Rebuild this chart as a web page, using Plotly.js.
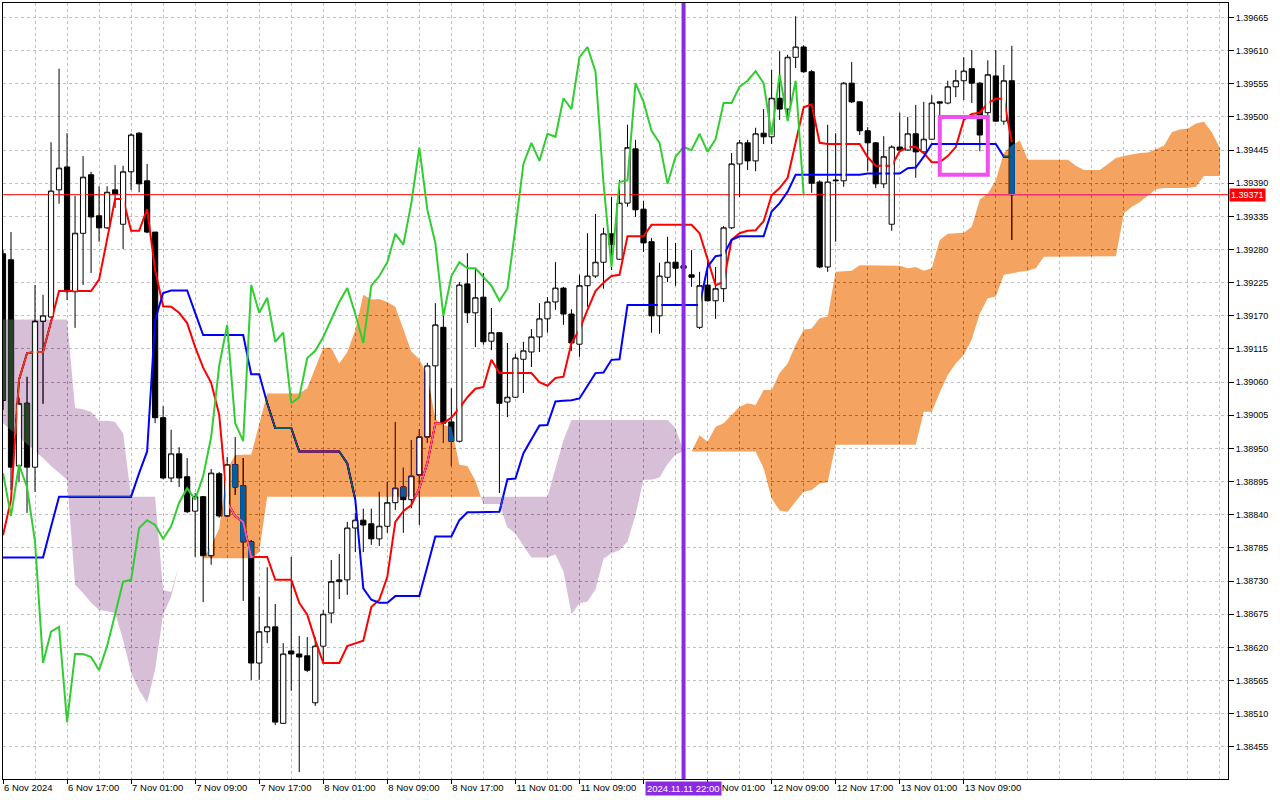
<!DOCTYPE html>
<html>
<head>
<meta charset="utf-8">
<script src="https://cdn.plot.ly/plotly-3.0.1.min.js"></script>
<style>html,body{margin:0;padding:0;background:#fff;}#chart{width:1280px;height:800px;}</style>
</head>
<body>
<div id="chart"></div>
<script>
// ---- H1 bars, 6 Nov 2024 09:00 ... 13 Nov 2024 15:00 (bar index 0..126) ----
const xTickIdx  = [0, 8, 16, 24, 32, 40, 48, 56, 64, 72, 80, 88, 96, 104, 112, 120];
// the 11 Nov 17:00 label sits under the vertical-line time label in the original
const xTickText = ['6 Nov 2024','6 Nov 17:00','7 Nov 01:00','7 Nov 09:00','7 Nov 17:00','8 Nov 01:00','8 Nov 09:00','8 Nov 17:00','11 Nov 01:00','11 Nov 09:00','','12 Nov 01:00','12 Nov 09:00','12 Nov 17:00','13 Nov 01:00','13 Nov 09:00'];
const yTickVals = [1.38455,1.38510,1.38565,1.38620,1.38675,1.38730,1.38785,1.38840,1.38895,1.38950,1.39005,1.39060,1.39115,1.39170,1.39225,1.39280,1.39335,1.39390,1.39445,1.39500,1.39555,1.39610,1.39665];

const open = [1.39273,1.39263,1.38921,1.39025,1.38919,1.39161,1.39168,1.39379,1.39417,1.39210,
1.39307,1.39404,1.39336,1.39316,1.39379,1.39322,1.39409,1.39473,1.39394,1.39309,
1.39001,1.38901,1.38941,1.38903,1.38846,1.38870,1.38772,1.38908,1.38838,1.38923,
1.38888,1.38795,1.38594,1.38646,1.38654,1.38494,1.38614,1.38609,1.38606,1.38528,
1.38622,1.38677,1.38729,1.38732,1.38818,1.38831,1.38825,1.38800,1.38821,1.38860,
1.38886,1.38865,1.38906,1.38969,1.39087,1.39151,1.38994,1.38962,1.39223,1.39175,
1.39201,1.39128,1.39142,1.39027,1.39035,1.39098,1.39110,1.39135,1.39165,1.39193,
1.39216,1.39173,1.39123,1.39220,1.39236,1.39259,1.39306,1.39264,1.39357,1.39447,
1.39347,1.39293,1.39170,1.39234,1.39259,1.39253,1.39238,1.39151,1.39221,1.39195,
1.39215,1.39316,1.39422,1.39457,1.39427,1.39473,1.39467,1.39531,1.39513,1.39599,
1.39616,1.39575,1.39392,1.39251,1.39394,1.39394,1.39556,1.39525,1.39477,1.39457,
1.39389,1.39322,1.39450,1.39445,1.39472,1.39442,1.39463,1.39525,1.39523,1.39550,
1.39560,1.39580,1.39556,1.39507,1.39568,1.39493,1.39560];

const high = [1.39279,1.39309,1.39034,1.39069,1.39221,1.39205,1.39458,1.39580,1.39473,1.39369,
1.39435,1.39409,1.39385,1.39385,1.39420,1.39419,1.39473,1.39475,1.39422,1.39309,
1.39020,1.38981,1.38952,1.38934,1.38876,1.38871,1.38916,1.38911,1.38936,1.38969,
1.38934,1.38798,1.38704,1.38753,1.38692,1.38627,1.38770,1.38639,1.38637,1.38637,
1.38682,1.38765,1.38775,1.38828,1.38843,1.38850,1.38850,1.38878,1.38894,1.38994,
1.38918,1.38964,1.38982,1.39092,1.39191,1.39170,1.39050,1.39226,1.39274,1.39249,
1.39241,1.39183,1.39143,1.39125,1.39107,1.39127,1.39148,1.39191,1.39201,1.39259,
1.39218,1.39181,1.39238,1.39307,1.39339,1.39316,1.39367,1.39395,1.39487,1.39462,
1.39361,1.39299,1.39258,1.39301,1.39291,1.39271,1.39279,1.39243,1.39269,1.39251,
1.39319,1.39440,1.39462,1.39462,1.39482,1.39513,1.39578,1.39609,1.39603,1.39667,
1.39619,1.39578,1.39395,1.39487,1.39473,1.39558,1.39591,1.39526,1.39483,1.39458,
1.39468,1.39453,1.39507,1.39500,1.39520,1.39525,1.39536,1.39526,1.39560,1.39578,
1.39599,1.39611,1.39558,1.39594,1.39611,1.39586,1.39618];

const low = [1.39014,1.38881,1.38894,1.38843,1.38878,1.39024,1.39166,1.39356,1.39196,1.39150,
1.39221,1.39241,1.39293,1.39314,1.39349,1.39281,1.39379,1.39375,1.39307,1.38992,
1.38899,1.38894,1.38886,1.38843,1.38770,1.38695,1.38757,1.38835,1.38836,1.38873,
1.38697,1.38566,1.38566,1.38627,1.38491,1.38493,1.38548,1.38413,1.38579,1.38523,
1.38592,1.38660,1.38700,1.38707,1.38778,1.38778,1.38790,1.38788,1.38810,1.38848,
1.38810,1.38851,1.38823,1.38959,1.38997,1.38959,1.38921,1.38960,1.39158,1.39118,
1.39122,1.39113,1.38876,1.39002,1.39034,1.39042,1.39085,1.39110,1.39142,1.39180,
1.39155,1.39112,1.39102,1.39185,1.39233,1.39215,1.39246,1.39263,1.39351,1.39334,
1.39276,1.39142,1.39140,1.39226,1.39220,1.39229,1.39218,1.39148,1.39194,1.39165,
1.39193,1.39314,1.39367,1.39412,1.39410,1.39455,1.39455,1.39495,1.39495,1.39581,
1.39573,1.39374,1.39249,1.39243,1.39293,1.39384,1.39523,1.39470,1.39410,1.39382,
1.39382,1.39311,1.39442,1.39444,1.39399,1.39440,1.39462,1.39500,1.39521,1.39533,
1.39528,1.39523,1.39443,1.39492,1.39492,1.39487,1.39296];

const close = [1.39030,1.38919,1.39024,1.38919,1.39161,1.39170,1.39377,1.39415,1.39210,1.39307,
1.39400,1.39334,1.39316,1.39375,1.39372,1.39409,1.39470,1.39389,1.39309,1.39001,
1.38901,1.38941,1.38901,1.38845,1.38870,1.38772,1.38909,1.38838,1.38923,1.38886,
1.38795,1.38594,1.38646,1.38654,1.38496,1.38609,1.38609,1.38604,1.38582,1.38622,
1.38675,1.38729,1.38732,1.38818,1.38831,1.38823,1.38800,1.38821,1.38860,1.38884,
1.38865,1.38904,1.38969,1.39087,1.39155,1.38992,1.38962,1.39221,1.39175,1.39200,
1.39127,1.39142,1.39025,1.39035,1.39100,1.39112,1.39135,1.39165,1.39193,1.39216,
1.39173,1.39125,1.39220,1.39236,1.39259,1.39306,1.39288,1.39357,1.39449,1.39346,
1.39291,1.39170,1.39236,1.39259,1.39249,1.39249,1.39234,1.39220,1.39195,1.39215,
1.39316,1.39422,1.39457,1.39427,1.39472,1.39467,1.39531,1.39513,1.39599,1.39616,
1.39575,1.39390,1.39251,1.39392,1.39395,1.39556,1.39525,1.39477,1.39457,1.39389,
1.39434,1.39450,1.39445,1.39472,1.39442,1.39463,1.39523,1.39523,1.39550,1.39560,
1.39576,1.39556,1.39470,1.39570,1.39493,1.39560,1.39371];

// Ichimoku lines
const tenkan = [1.38806,1.38865,1.39064,1.39108,1.39110,1.39110,1.39160,1.39211,1.39211,1.39211,
1.39211,1.39211,1.39230,1.39296,1.39364,1.39364,1.39311,1.39311,1.39347,1.39246,
1.39186,1.39185,1.39175,1.39158,1.39118,1.39084,1.39059,1.39006,1.38860,1.38838,
1.38828,1.38770,1.38770,1.38770,1.38732,1.38732,1.38732,1.38694,1.38674,1.38632,
1.38594,1.38594,1.38594,1.38622,1.38627,1.38631,1.38687,1.38699,1.38737,1.38828,
1.38846,1.38856,1.38884,1.38926,1.38992,1.38992,1.39001,1.39017,1.39035,1.39049,
1.39052,1.39097,1.39075,1.39075,1.39075,1.39075,1.39075,1.39060,1.39054,1.39067,
1.39069,1.39125,1.39147,1.39180,1.39211,1.39225,1.39236,1.39238,1.39302,1.39302,
1.39302,1.39321,1.39321,1.39321,1.39321,1.39321,1.39321,1.39307,1.39263,1.39221,
1.39226,1.39296,1.39307,1.39311,1.39312,1.39327,1.39370,1.39382,1.39399,1.39457,
1.39516,1.39521,1.39457,1.39455,1.39455,1.39455,1.39455,1.39455,1.39433,1.39419,
1.39419,1.39419,1.39443,1.39450,1.39450,1.39440,1.39425,1.39425,1.39435,1.39450,
1.39495,1.39505,1.39507,1.39523,1.39530,1.39530,1.39458];

const kijun = [1.38769,1.38769,1.38769,1.38769,1.38769,1.38769,1.38820,1.38870,1.38870,1.38870,
1.38870,1.38870,1.38870,1.38870,1.38870,1.38870,1.38870,1.38909,1.38945,1.39163,
1.39208,1.39212,1.39212,1.39212,1.39175,1.39138,1.39138,1.39138,1.39138,1.39138,
1.39138,1.39073,1.39073,1.39025,1.38984,1.38984,1.38984,1.38945,1.38945,1.38945,
1.38945,1.38945,1.38945,1.38925,1.38865,1.38718,1.38699,1.38694,1.38694,1.38705,
1.38705,1.38705,1.38705,1.38754,1.38804,1.38804,1.38804,1.38831,1.38844,1.38844,
1.38844,1.38845,1.38845,1.38899,1.38900,1.38942,1.38964,1.38988,1.38989,1.39028,
1.39029,1.39030,1.39033,1.39054,1.39075,1.39076,1.39097,1.39098,1.39188,1.39188,
1.39188,1.39188,1.39188,1.39188,1.39188,1.39188,1.39188,1.39188,1.39251,1.39269,
1.39271,1.39296,1.39302,1.39302,1.39302,1.39302,1.39343,1.39357,1.39376,1.39404,
1.39404,1.39404,1.39404,1.39404,1.39404,1.39404,1.39404,1.39404,1.39406,1.39406,
1.39406,1.39406,1.39406,1.39415,1.39416,1.39434,1.39455,1.39455,1.39455,1.39455,
1.39455,1.39455,1.39455,1.39455,1.39455,1.39434,1.39434];

// Senkou spans (already plotted 26 bars ahead), bar index 0..152
const spanA = [1.38992,1.38981,1.38969,1.38957,1.38946,1.38934,1.38921,1.38909,1.38898,1.38724,
1.38710,1.38694,1.38682,1.38680,1.38677,1.38632,1.38578,1.38549,1.38528,1.38583,
1.38674,1.38704,1.38757,1.38760,1.38760,1.38768,1.38788,1.38817,1.38916,1.38939,
1.38940,1.38940,1.38990,1.39041,1.39041,1.39041,1.39041,1.39041,1.39050,1.39083,
1.39117,1.39117,1.39091,1.39110,1.39146,1.39205,1.39197,1.39198,1.39193,1.39185,
1.39147,1.39111,1.39098,1.39072,1.38999,1.38989,1.38986,1.38923,1.38921,1.38897,
1.38858,1.38858,1.38858,1.38819,1.38809,1.38788,1.38769,1.38769,1.38769,1.38774,
1.38746,1.38675,1.38693,1.38696,1.38716,1.38767,1.38776,1.38781,1.38795,1.38840,
1.38898,1.38898,1.38902,1.38924,1.38940,1.38945,1.38945,1.38972,1.38961,1.38986,
1.38992,1.39006,1.39019,1.39025,1.39022,1.39047,1.39047,1.39075,1.39091,1.39122,
1.39147,1.39149,1.39166,1.39169,1.39243,1.39244,1.39245,1.39254,1.39254,1.39254,
1.39254,1.39254,1.39253,1.39249,1.39251,1.39245,1.39249,1.39296,1.39306,1.39307,
1.39308,1.39318,1.39363,1.39373,1.39395,1.39440,1.39453,1.39461,1.39429,1.39429,
1.39429,1.39429,1.39429,1.39429,1.39419,1.39412,1.39412,1.39412,1.39422,1.39432,
1.39435,1.39438,1.39440,1.39441,1.39446,1.39452,1.39475,1.39479,1.39481,1.39489,
1.39492,1.39474,1.39448];

const spanB = [1.39164,1.39164,1.39164,1.39164,1.39164,1.39164,1.39164,1.39164,1.39164,1.39017,
1.39015,1.39011,1.38996,1.38996,1.38994,1.38975,1.38870,1.38870,1.38870,1.38870,
1.38715,1.38712,1.38757,1.38760,1.38760,1.38768,1.38768,1.38768,1.38768,1.38768,
1.38768,1.38768,1.38778,1.38870,1.38870,1.38870,1.38870,1.38870,1.38870,1.38870,
1.38870,1.38870,1.38870,1.38870,1.38870,1.38870,1.38870,1.38870,1.38870,1.38870,
1.38870,1.38870,1.38870,1.38870,1.38870,1.38870,1.38870,1.38870,1.38870,1.38870,
1.38870,1.38870,1.38870,1.38870,1.38870,1.38870,1.38870,1.38870,1.38870,1.38918,
1.38964,1.38997,1.38997,1.38997,1.38997,1.38997,1.38997,1.38997,1.38997,1.38997,
1.38997,1.38997,1.38997,1.38997,1.38984,1.38945,1.38945,1.38945,1.38945,1.38945,
1.38945,1.38945,1.38945,1.38945,1.38945,1.38917,1.38867,1.38847,1.38845,1.38862,
1.38878,1.38881,1.38892,1.38894,1.38956,1.38956,1.38956,1.38956,1.38956,1.38956,
1.38956,1.38956,1.38956,1.38956,1.38956,1.39011,1.39011,1.39043,1.39072,1.39091,
1.39105,1.39131,1.39174,1.39199,1.39202,1.39238,1.39241,1.39243,1.39245,1.39249,
1.39268,1.39269,1.39269,1.39269,1.39269,1.39269,1.39269,1.39269,1.39269,1.39269,
1.39340,1.39351,1.39359,1.39370,1.39380,1.39382,1.39382,1.39382,1.39382,1.39384,
1.39402,1.39402,1.39402];

const chikouShift = 26;
const bidPrice = 1.39371;
const markerBar = 85;                 // 2024.11.11 22:00
const markerLabel = '2024.11.11 22:00';
const boxBars = [117, 123];
const boxPrices = [1.39404, 1.39500];

// ---- styling ----
const FONT = 'Liberation Sans, Arial, sans-serif';
const GRID = '#c4bcc6';
const KUMO_UP = '#F4A460', KUMO_DOWN = '#D8BFD8';
const X_RANGE = [0, 153];
const Y_RANGE = [1.384016, 1.39689];
const PLOT_H = 776;
const PX = (Y_RANGE[1] - Y_RANGE[0]) / PLOT_H;   // price per pixel

function invert(hex) {
  const n = parseInt(hex.slice(1), 16) ^ 0xffffff;
  return '#' + n.toString(16).padStart(6, '0');
}

const barIdx = close.map((_, i) => i);
const chikouX = [], chikouY = [];
for (let i = chikouShift; i < close.length; i++) { chikouX.push(i - chikouShift); chikouY.push(close[i]); }

// interiors of the bullish bodies (stay white over the kumo, as in the terminal)
const bullX = [], bullY = [];
barIdx.forEach(i => {
  if (close[i] - open[i] > 2.5 * PX) {
    const y0 = open[i] + PX, y1 = close[i] - PX, x0 = i - 0.2, x1 = i + 0.2;
    bullX.push(x0, x1, x1, x0, x0, null);
    bullY.push(y0, y0, y1, y1, y0, null);
  }
});

// split the cloud into pieces of constant sign, with crossing points
function cloudPieces(A, B) {
  const pieces = [];
  let cur = {x: [], a: [], b: []}, lastSign = 0;
  for (let i = 0; i < A.length; i++) {
    const d = A[i] - B[i];
    const s = Math.abs(d) < 1e-9 ? 0 : Math.sign(d);
    if (s !== 0 && lastSign !== 0 && s !== lastSign) {
      const dp = A[i-1] - B[i-1];
      if (Math.abs(dp) < 1e-9) {
        pieces.push(cur);
        cur = {x: [i-1], a: [A[i-1]], b: [B[i-1]]};
      } else {
        const t = dp / (dp - d);
        const xc = i - 1 + t, yc = A[i-1] + t * (A[i] - A[i-1]);
        cur.x.push(xc); cur.a.push(yc); cur.b.push(yc);
        pieces.push(cur);
        cur = {x: [xc], a: [yc], b: [yc]};
      }
    }
    if (s !== 0) lastSign = s;
    cur.x.push(i); cur.a.push(A[i]); cur.b.push(B[i]);
  }
  pieces.push(cur);
  return pieces.map(p => {
    let sum = 0; p.a.forEach((v, k) => sum += v - p.b[k]);
    return {x: p.x.concat(p.x.slice().reverse()), y: p.a.concat(p.b.slice().reverse()), up: sum > 0};
  });
}

const pieces = cloudPieces(spanA, spanB);

const data = [];
data.push({
  type: 'candlestick', x: barIdx, open: open, high: high, low: low, close: close,
  increasing: {line: {color: '#000000', width: 1}, fillcolor: '#ffffff'},
  decreasing: {line: {color: '#000000', width: 1}, fillcolor: '#000000'},
  whiskerwidth: 0, hoverinfo: 'skip', showlegend: false
});
// scatter traces (order matters for the cloud blending)
data.push({type: 'scatter', mode: 'lines', x: X_RANGE, y: [bidPrice, bidPrice], line: {color: '#ff0000', width: 1}, hoverinfo: 'skip'});
data.push({type: 'scatter', mode: 'lines', x: barIdx, y: tenkan, line: {color: '#ff0000', width: 2}, hoverinfo: 'skip'});
data.push({type: 'scatter', mode: 'lines', x: barIdx, y: kijun, line: {color: '#0000ff', width: 2}, hoverinfo: 'skip'});
const CLOUD_START = 3;
pieces.forEach(p => {
  data.push({type: 'scatter', mode: 'lines', x: p.x, y: p.y, fill: 'toself',
    fillcolor: invert(p.up ? KUMO_UP : KUMO_DOWN), line: {width: 0, color: 'rgba(0,0,0,0)'},
    hoverinfo: 'skip'});
});
data.push({type: 'scatter', mode: 'lines', x: bullX, y: bullY, fill: 'toself', fillcolor: '#ffffff',
  line: {width: 0, color: 'rgba(0,0,0,0)'}, connectgaps: false, hoverinfo: 'skip'});
data.push({type: 'scatter', mode: 'lines', x: chikouX, y: chikouY, line: {color: '#32cd32', width: 2}, hoverinfo: 'skip'});

const layout = {
  width: 1280, height: 800,
  margin: {l: 3, r: 52, t: 3, b: 21, pad: 0},
  paper_bgcolor: '#ffffff', plot_bgcolor: '#ffffff',
  showlegend: false,
  font: {family: FONT, size: 10, color: '#000'},
  boxgap: 0.35, boxgroupgap: 0,
  xaxis: {
    range: X_RANGE, tickmode: 'array', tickvals: xTickIdx, ticktext: xTickText,
    ticks: 'outside', ticklen: 4, tickwidth: 1, tickcolor: '#000', tickangle: 0,
    ticklabelposition: 'outside right',
    tickfont: {family: FONT, size: 9.5, color: '#000'},
    showgrid: true, gridcolor: GRID, gridwidth: 1, griddash: '3px,3px',
    minor: {tickmode: 'linear', tick0: 0, dtick: 4, showgrid: true, gridcolor: GRID, gridwidth: 1, griddash: '3px,3px', ticks: ''},
    showline: true, linecolor: '#000', linewidth: 1, mirror: true,
    zeroline: false, rangeslider: {visible: false}, fixedrange: true
  },
  yaxis: {
    side: 'right', range: Y_RANGE, tickmode: 'array', tickvals: yTickVals, tickformat: '.5f',
    ticks: 'outside', ticklen: 5, tickwidth: 1, tickcolor: '#000',
    tickfont: {family: FONT, size: 9, color: '#000'},
    showgrid: true, gridcolor: GRID, gridwidth: 1, griddash: '3px,3px',
    showline: true, linecolor: '#000', linewidth: 1, mirror: true,
    zeroline: false, fixedrange: true
  },
  shapes: [
    {type: 'line', xref: 'x', x0: markerBar, x1: markerBar, yref: 'paper', y0: 0, y1: 1, line: {color: '#8a2be2', width: 4}, layer: 'above'},
    {type: 'rect', xref: 'x', x0: boxBars[0], x1: boxBars[1], yref: 'y', y0: boxPrices[0], y1: boxPrices[1], line: {color: '#f050f0', width: 4}, fillcolor: 'rgba(0,0,0,0)', layer: 'above'}
  ],
  annotations: [
    {xref: 'paper', x: 1, xanchor: 'left', xshift: 1, yref: 'y', y: bidPrice, yanchor: 'middle',
     text: bidPrice.toFixed(5), showarrow: false, bgcolor: '#ff0000', borderpad: 1,
     font: {family: FONT, size: 9, color: '#ffffff'}},
    {xref: 'x', x: markerBar, xanchor: 'center', yref: 'paper', y: 0, yanchor: 'top', yshift: -2,
     text: markerLabel, showarrow: false, bgcolor: '#8a2be2', borderpad: 1,
     font: {family: FONT, size: 9.5, color: '#ffffff'}}
  ]
};

function mt5Kumo(gd) {
  const NS = 'http://www.w3.org/2000/svg';
  const scatterLayer = gd.querySelector('.scatterlayer');
  if (!scatterLayer) return;
  const plotG = scatterLayer.parentNode;   // group holding all trace layers
  // 1) the kumo inverts what lies below it (as the terminal draws it)
  const traces = scatterLayer.querySelectorAll(':scope > .trace');
  traces.forEach((g, k) => {
    if (k >= CLOUD_START && k < CLOUD_START + pieces.length) g.style.mixBlendMode = 'difference';
  });
  // 2) opaque white backdrop + copy of the grid inside that group
  const back = document.createElementNS(NS, 'g');
  let ox = 0, oy = 0, invM = null;
  try {
    const ctm = plotG.getCTM();
    if (ctm) { ox = ctm.e; oy = ctm.f; invM = ctm.inverse(); }
  } catch (e) {}
  const sz = gd._fullLayout._size;
  const r = document.createElementNS(NS, 'rect');
  r.setAttribute('x', sz.l - ox); r.setAttribute('y', sz.t - oy);
  r.setAttribute('width', sz.w); r.setAttribute('height', sz.h);
  r.setAttribute('fill', '#ffffff');
  back.appendChild(r);
  gd.querySelectorAll('.minor-gridlayer path, .gridlayer path').forEach(p => {
    try {
      const c = p.cloneNode(true);
      const pm = p.getCTM && p.getCTM();
      if (invM && pm) {
        const M = invM.multiply(pm);
        c.setAttribute('transform', 'matrix(' + [M.a, M.b, M.c, M.d, M.e, M.f].join(',') + ')');
      } else {
        const t0 = p.getAttribute('transform') || '';
        c.setAttribute('transform', 'translate(' + (-ox) + ',' + (-oy) + ') ' + t0);
      }
      back.appendChild(c);
    } catch (e) {}
  });
  plotG.insertBefore(back, plotG.firstChild);
}

Plotly.newPlot('chart', data, layout, {displayModeBar: false, staticPlot: true}).then(gd => {
  try { mt5Kumo(gd); } catch (e) { console.log(e); }
});
</script>
</body>
</html>
